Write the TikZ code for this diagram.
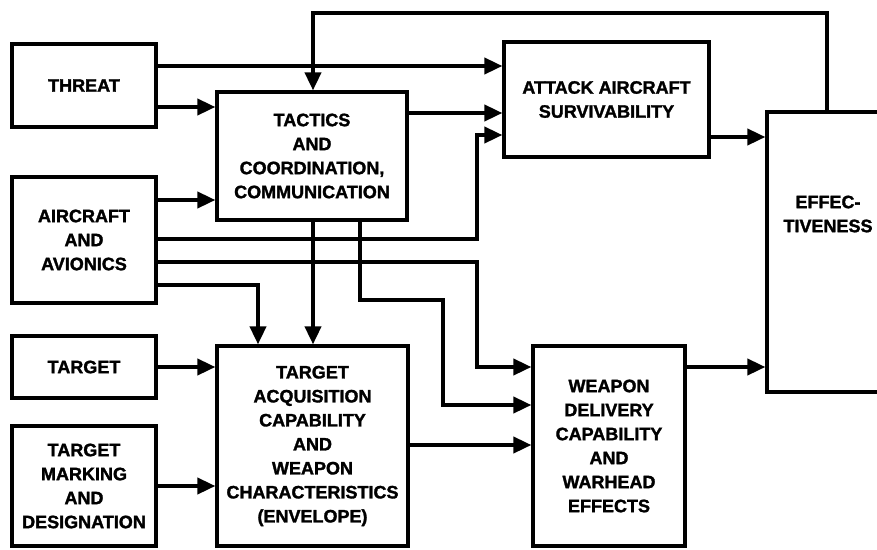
\documentclass[tikz,border=0pt]{standalone}
\usepackage{fontspec}
\setmainfont{Liberation Sans}
\newfontfamily\heavyfont{Liberation Sans Bold}[FakeBold=1.6]
\usetikzlibrary{arrows.meta}
\begin{document}
\begin{tikzpicture}[x=1pt,y=-1pt,
  box/.style={draw=black,line width=3.2pt,rectangle,inner sep=0pt,align=center,
    font=\heavyfont\fontsize{18}{24}\selectfont},
  lbl/.style={inner sep=0pt,align=center,font=\heavyfont\fontsize{18}{24}\selectfont},
  arr/.style={line width=3.8pt,-{Triangle[length=18pt,width=16pt]}}]
\useasboundingbox (0,0) rectangle (877,549);
\fill[white] (0,0) rectangle (877,549);
% boxes
\node[box,minimum width=144pt,minimum height=83pt] (threat) at (84,85.5) {THREAT};
\node[box,minimum width=144pt,minimum height=126pt] (aircraft) at (84,240) {AIRCRAFT\\AND\\AVIONICS};
\node[box,minimum width=144pt,minimum height=62pt] (target) at (84,367) {TARGET};
\node[box,minimum width=144pt,minimum height=120pt] (marking) at (84,486) {TARGET\\MARKING\\AND\\DESIGNATION};
\node[box,minimum width=190pt,minimum height=128pt] (tactics) at (312,156) {TACTICS\\AND\\COORDINATION,\\COMMUNICATION};
\node[box,minimum width=191pt,minimum height=200pt] (acq) at (312.5,446) {TARGET\\ACQUISITION\\CAPABILITY\\AND\\WEAPON\\CHARACTERISTICS\\(ENVELOPE)};
\node[box,minimum width=205pt,minimum height=115pt] (attack) at (606.5,99.5) {ATTACK AIRCRAFT\\SURVIVABILITY};
\node[box,minimum width=152pt,minimum height=200pt] (weapon) at (609,446) {WEAPON\\DELIVERY\\CAPABILITY\\AND\\WARHEAD\\EFFECTS};
\node[box,minimum width=122pt,minimum height=280pt] (eff) at (828,252) {};
\node[lbl] (efftext) at (828,214) {EFFEC-\\TIVENESS};
% connectors
\draw[arr] (threat.east |- 0,66) -- (attack.west |- 0,66);
\draw[arr] (threat.east |- 0,107) -- (tactics.west |- 0,107);
\draw[arr] (eff.north -| 827,0) |- (313,13) -- (tactics.north -| 313,0);
\draw[arr] (tactics.east |- 0,113) -- (attack.west |- 0,113);
\draw[arr] (aircraft.east |- 0,200) -- (tactics.west |- 0,200);
\draw[arr] (aircraft.east |- 0,239) -| (477,135) -- (attack.west |- 0,135);
\draw[arr] (aircraft.east |- 0,262) -| (477,367) -- (weapon.west |- 0,367);
\draw[arr] (tactics.south -| 360,0) |- (443,300) |- (weapon.west |- 0,405);
\draw[arr] (tactics.south -| 313,0) -- (acq.north -| 313,0);
\draw[arr] (aircraft.east |- 0,285) -| (acq.north -| 258,0);
\draw[arr] (target.east) -- (acq.west |- target.east);
\draw[arr] (marking.east) -- (acq.west |- marking.east);
\draw[arr] (acq.east |- 0,445) -- (weapon.west |- 0,445);
\draw[arr] (attack.east |- 0,137) -- (eff.west |- 0,137);
\draw[arr] (weapon.east |- 0,367) -- (eff.west |- 0,367);
\end{tikzpicture}
\end{document}
